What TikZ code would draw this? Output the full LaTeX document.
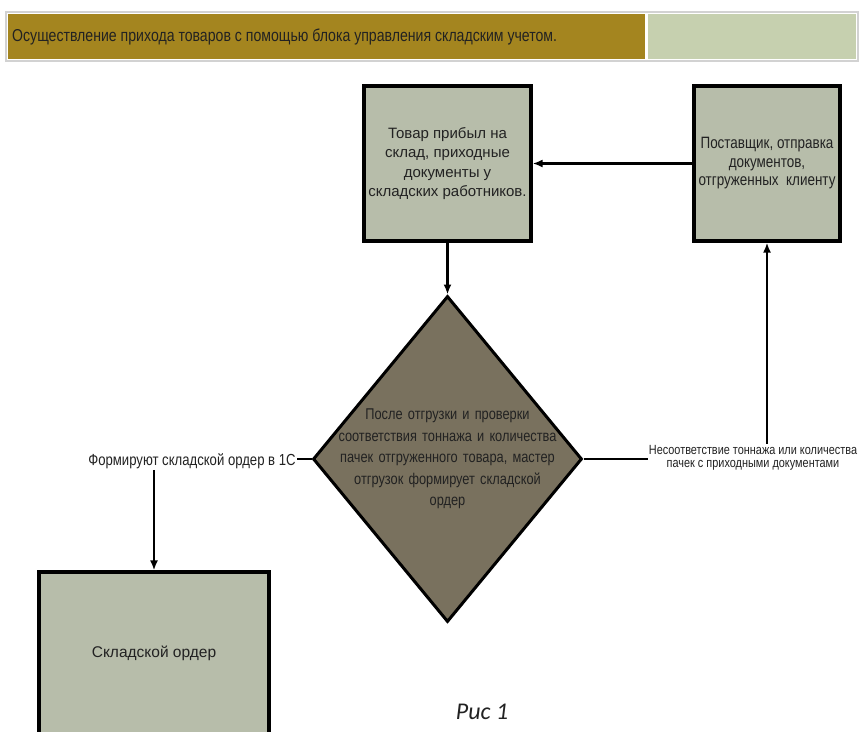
\documentclass[tikz,border=0pt]{standalone}
\usepackage{fontspec}
\setmainfont{Liberation Sans}
\newfontfamily\narrowfont{Liberation Sans}[FakeStretch=0.82]
\newfontfamily\capfont{Carlito}
\usetikzlibrary{shapes.geometric,arrows.meta}
\definecolor{barGold}{HTML}{A4851F}
\definecolor{barLight}{HTML}{C6D0AF}
\definecolor{boxFill}{HTML}{B7BDAA}
\definecolor{rhombFill}{HTML}{79715E}
\definecolor{inkDark}{HTML}{222222}
\tikzstyle{box}=[rectangle, draw=black, line width=3.2pt, fill=boxFill, align=center, inner sep=0pt, text=inkDark]
\tikzstyle{rhomb}=[diamond, draw=black, line width=3pt, fill=rhombFill, inner sep=0pt]
\tikzstyle{note}=[align=center, inner sep=1pt, text=inkDark]
\tikzstyle{link}=[line width=2.4pt]
\tikzstyle{feed}=[line width=2.4pt, -{Latex[length=10pt,width=8pt]}]

\begin{document}
\begin{tikzpicture}[x=1pt,y=-1pt]
		   \useasboundingbox (0,0) rectangle (859,731);
		   \clip (0,0) rectangle (859,731);
		   % header bar
		   \fill[gray!35] (5,11) rectangle (859,62);
		   \fill[white] (7,13) rectangle (857,60);
		   \fill[barGold] (8,14) rectangle (645,59);
		   \fill[barLight] (648,14) rectangle (856,59);
		   \node (title) at (12,37)[anchor=west, inner sep=0pt, text=inkDark, font=\narrowfont\fontsize{17.2}{19}\selectfont] {Осуществление прихода товаров с помощью блока управления складским учетом.};
		   \begin{scope}
			   \node (goods) at (447.5,163.5)[box, minimum width=167, minimum height=155, font=\fontsize{15}{19.5}\selectfont] {Товар прибыл на\\склад, приходные\\документы у\\складских работников.};
			   \node (supp) at (767,163.5)[box, minimum width=146, minimum height=155, font=\narrowfont\fontsize{16.4}{18.5}\selectfont] {Поставщик, отправка\\документов,\\отгруженных\ \ клиенту};
			   \node (check) at (447.5,459)[rhomb, minimum width=269, minimum height=326,
				   label={[note, text width=240, font=\narrowfont\fontsize{15.6}{21.6}\selectfont]center:После отгрузки и проверки\\соответствия тоннажа и количества\\пачек отгруженного товара, мастер\\отгрузок формирует складской\\ордер}] {};
			   \node (okLbl) at (192,461)[note, font=\narrowfont\fontsize{16}{18}\selectfont] {Формируют складской ордер в 1С};
			   \node (badLbl) at (753,457.5)[note, font=\narrowfont\fontsize{13.3}{13}\selectfont] {Несоответствие тоннажа или количества\\пачек с приходными документами};
			   \node (order) at (154,653)[box, minimum width=230, minimum height=162, font=\fontsize{15.5}{19}\selectfont] {Складской ордер};
			   \node (cap) at (482,712)[inner sep=0pt, text=inkDark, font=\capfont\itshape\fontsize{24}{28}\selectfont] {Рис 1};
		   \end{scope}
		   \begin{scope}
			   \path [feed] (supp) edge (goods);
			   \path [feed] (goods) edge (check);
			   \path [link] (check.west) edge (check.west -| okLbl.east);
			   \path [feed] (okLbl.south -| order.north) edge (order.north);
			   \path [link] (check.east) edge (check.east -| badLbl.west);
			   \path [feed] (badLbl.north -| supp.south) edge (supp.south);
		   \end{scope}
	   \end{tikzpicture}
\end{document}
